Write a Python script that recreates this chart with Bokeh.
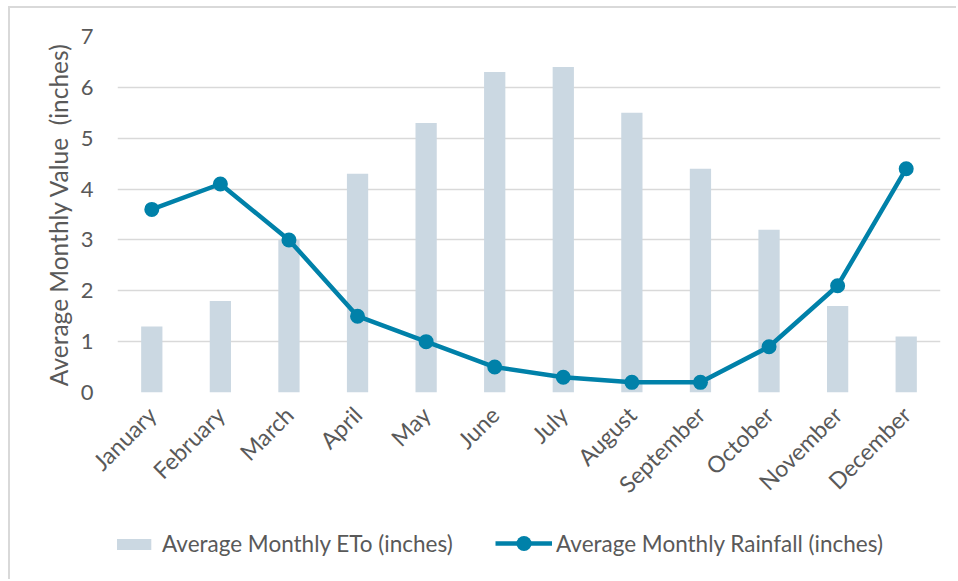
from bokeh.plotting import figure
from bokeh.layouts import column
from bokeh.models import Range1d, FixedTicker, Legend, LegendItem, ColumnDataSource
from bokeh.embed import file_html
from bokeh.resources import INLINE
import math

months = ["January", "February", "March", "April", "May", "June", "July",
          "August", "September", "October", "November", "December"]
eto = [1.3, 1.8, 3.0, 4.3, 5.3, 6.3, 6.4, 5.5, 4.4, 3.2, 1.7, 1.1]
rainfall = [3.6, 4.1, 3.0, 1.5, 1.0, 0.5, 0.3, 0.2, 0.2, 0.9, 2.1, 4.4]
y_ticks = [0, 1, 2, 3, 4, 5, 6, 7]
eto_label = "Average Monthly ETo (inches)"
rain_label = "Average Monthly Rainfall (inches)"

FONT = "Lato"
TEXT = "#595959"
GRID = "#D9D9D9"
BAR = "#CBD8E2"
LINE = "#0081A9"

src = ColumnDataSource(dict(month=months, eto=eto, rain=rainfall))

p = figure(x_range=months, y_range=Range1d(0, 7), width=946, height=507,
           output_backend="svg", toolbar_location=None,
           min_border_left=107, min_border_right=16, min_border_top=28,
           min_border_bottom=123)
p.x_range.range_padding = 0
p.outline_line_color = None

bars = p.vbar(x="month", top="eto", width=0.31, source=src,
              fill_color=BAR, line_color=None)
ln = p.line(x="month", y="rain", source=src, line_color=LINE, line_width=4.5)
sc = p.scatter(x="month", y="rain", source=src, size=15, fill_color=LINE,
               line_color=None)

p.xgrid.grid_line_color = None
p.ygrid.grid_line_color = GRID
p.ygrid.grid_line_width = 1.6

p.yaxis.ticker = FixedTicker(ticks=y_ticks)
p.yaxis.axis_line_color = None
p.yaxis.major_tick_line_color = None
p.yaxis.minor_tick_line_color = None
p.yaxis.major_label_standoff = 18
p.yaxis.major_label_text_font = FONT
p.yaxis.major_label_text_font_size = "22px"
p.yaxis.major_label_text_color = TEXT
p.yaxis.axis_label = "Average Monthly Value\u00a0 (inches)"
p.yaxis.axis_label_text_font = FONT
p.yaxis.axis_label_text_font_size = "24.5px"
p.yaxis.axis_label_text_font_style = "normal"
p.yaxis.axis_label_text_color = TEXT
p.yaxis.axis_label_standoff = 5

p.xaxis.axis_line_color = None
p.xaxis.major_tick_line_color = None
p.xaxis.minor_tick_line_color = None
p.xaxis.major_label_orientation = math.pi / 4
p.xaxis.major_label_standoff = 12
p.xaxis.major_label_text_font = FONT
p.xaxis.major_label_text_font_size = "23px"
p.xaxis.major_label_text_color = TEXT

# legend strip below the chart (its frame is aligned with the chart's frame)
q = figure(x_range=months, y_range=Range1d(100, 101), width=946, height=64,
           output_backend="svg", toolbar_location=None,
           min_border_left=107, min_border_right=16, min_border_top=0,
           min_border_bottom=0)
q.x_range.range_padding = 0
q.axis.visible = False
q.grid.visible = False
q.outline_line_color = None
qb = q.vbar(x="month", top="eto", width=0.31, source=src, fill_color=BAR, line_color=None)
ql = q.line(x="month", y="rain", source=src, line_color=LINE, line_width=4.5)
qs = q.scatter(x="month", y="rain", source=src, size=15, fill_color=LINE, line_color=None)

leg1 = Legend(items=[LegendItem(label=eto_label, renderers=[qb])], location=(-13, 22))
leg1.glyph_width = 52
leg1.glyph_height = 14
leg1.label_standoff = 6
leg2 = Legend(items=[LegendItem(label=rain_label, renderers=[ql, qs])], location=(378, 17))
leg2.glyph_width = 57
leg2.glyph_height = 38
leg2.label_standoff = 4
for lg in (leg1, leg2):
    lg.padding = 0
    lg.margin = 0
    lg.border_line_color = None
    lg.background_fill_alpha = 0
    lg.label_text_font = FONT
    lg.label_text_font_size = "22.5px"
    lg.label_text_color = TEXT
    q.add_layout(lg, "center")

layout = column(p, q, spacing=0)
layout.styles = {"margin-left": "8px", "margin-top": "6px",
                 "border-left": "2px solid #D9D9D9", "border-top": "2px solid #D9D9D9"}

open("out.html", "w").write(file_html(layout, INLINE))
